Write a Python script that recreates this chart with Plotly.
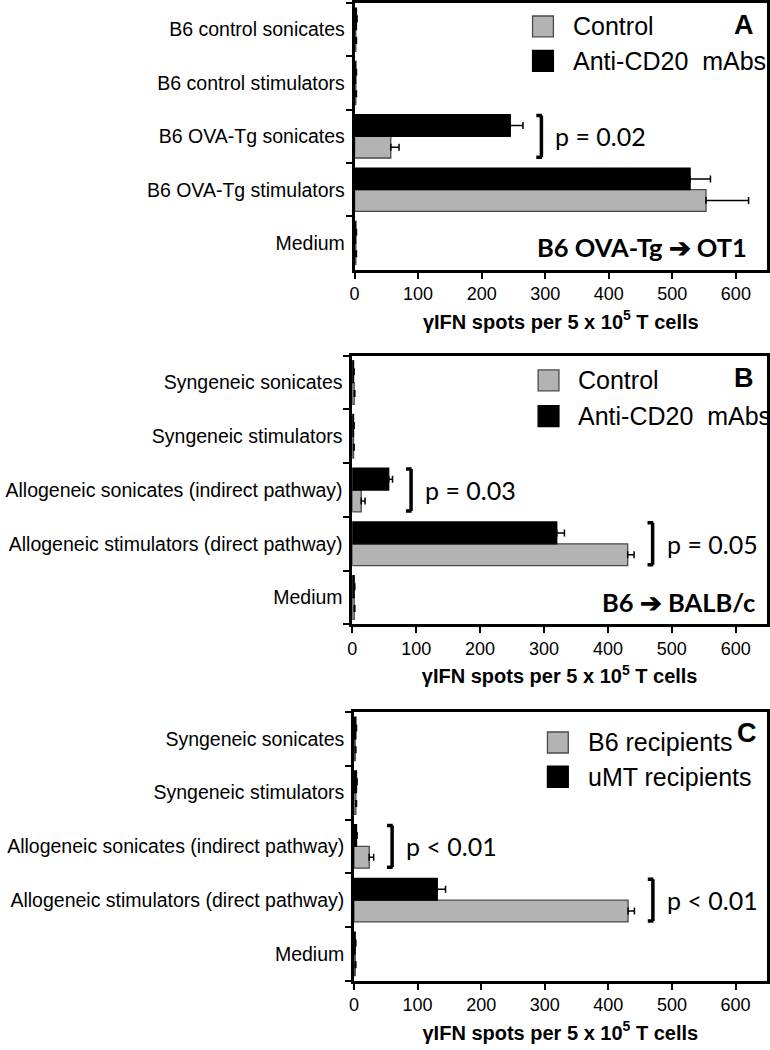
import plotly.graph_objects as go

W, H = 770, 1050

# ---------------- data ----------------
# categories listed from bottom to top
cats_a = ["Medium", "B6 OVA-Tg stimulators", "B6 OVA-Tg sonicates",
          "B6 control stimulators", "B6 control sonicates"]
ctrl_a = [2, 553, 57, 2, 2]
ctrl_a_err = [1, 67, 13, 1, 1]
anti_a = [2, 528, 245, 2, 3]
anti_a_err = [1, 32, 20, 1, 1]

cats_b = ["Medium", "Allogeneic stimulators (direct pathway)",
          "Allogeneic sonicates (indirect pathway)",
          "Syngeneic stimulators", "Syngeneic sonicates"]
ctrl_b = [3, 431, 14, 2, 3]
ctrl_b_err = [1, 10, 6, 1, 1]
anti_b = [3, 320, 57, 2, 2]
anti_b_err = [1, 12, 6, 1, 1]

cats_c = cats_b
b6_c = [2, 431, 24, 3, 2]
b6_c_err = [1, 10, 7, 1, 1]
umt_c = [2, 131, 4, 4, 3]
umt_c_err = [1, 13, 1, 1, 1]

legend_a = ["Control", "Anti-CD20\u00a0\u00a0mAbs"]
legend_c = ["B6 recipients", "uMT recipients"]
panel_letters = ["A", "B", "C"]
panel_notes = ["B6 OVA-Tg \u2794 OT1", "B6 \u2794 BALB/c", None]
# (panel, category index, p text)
pvals = [(0, 2, "p = 0.02"), (1, 2, "p = 0.03"), (1, 1, "p = 0.05"),
         (2, 2, "p < 0.01"), (2, 1, "p < 0.01")]
xticks = [0, 100, 200, 300, 400, 500, 600]

GRAY = "#b3b3b3"
GRAY_LINE = "#4a4a4a"

panels = [
    dict(cats=cats_a, s1=ctrl_a, e1=ctrl_a_err, s2=anti_a, e2=anti_a_err, names=legend_a,
         xdom=(352.3, 768), ydom=(2, 269)),
    dict(cats=cats_b, s1=ctrl_b, e1=ctrl_b_err, s2=anti_b, e2=anti_b_err, names=legend_a,
         xdom=(350, 768), ydom=(355, 624)),
    dict(cats=cats_c, s1=b6_c, e1=b6_c_err, s2=umt_c, e2=umt_c_err, names=legend_c,
         xdom=(351.7, 767.7), ydom=(711.7, 980.7)),
]

def px(x):
    return x / W

def py(y):
    return 1 - y / H

fig = go.Figure()
shapes = []
annotations = []
XMAX = 649

for i, p in enumerate(panels):
    sfx = "" if i == 0 else str(i + 1)
    xa, ya = "x" + sfx, "y" + sfx
    for vals, errs, name, fill, line in [(p["s1"], p["e1"], p["names"][0], GRAY, GRAY_LINE),
                                         (p["s2"], p["e2"], p["names"][1], "black", "black")]:
        fig.add_trace(go.Bar(
            orientation="h", x=vals, y=p["cats"], name=name,
            xaxis=xa, yaxis=ya, showlegend=False,
            marker=dict(color=fill, line=dict(color=line, width=1.3)),
            error_x=dict(type="data", array=errs, arrayminus=[0] * len(errs),
                         symmetric=False, color="black", thickness=1.5, width=3.5),
        ))
    x0, x1 = p["xdom"]
    y0, y1 = p["ydom"]
    fig.layout["xaxis" + sfx] = dict(
        domain=[px(x0), px(x1)], anchor=ya, range=[0, XMAX],
        tickvals=xticks, ticks="outside", ticklen=6, tickwidth=1.5, tickcolor="black",
        showline=True, mirror=True, linewidth=2.6, linecolor="black",
        showgrid=False, zeroline=False,
        tickfont=dict(family="Liberation Sans, Arial", size=18, color="black"),
        title=dict(text="<b>\u03b3IFN spots per 5 x 10<sup>5</sup> T cells</b>",
                   font=dict(family="Liberation Sans, Arial", size=20, color="black"),
                   standoff=12),
    )
    fig.layout["yaxis" + sfx] = dict(
        domain=[py(y1), py(y0)], anchor=xa, type="category",
        categoryorder="array", categoryarray=p["cats"],
        tickson="boundaries", ticks="outside", ticklen=6, tickwidth=1.5, tickcolor="black",
        showline=True, mirror=True, linewidth=2.6, linecolor="black",
        showgrid=False, zeroline=False, ticklabelstandoff=3,
        tickfont=dict(family="Liberation Sans, Arial", size=19.5, color="black"),
    )

    # manual legend (large square keys)
    lx = {0: 531.7, 1: 537.3, 2: 546.7}[i]
    ly = {0: (15, 49.5), 1: (369.3, 405), 2: (731.7, 766)}[i]
    for k, (fill, line) in enumerate([(GRAY, GRAY_LINE), ("black", "black")]):
        top = ly[k]
        shapes.append(dict(type="rect", xref="paper", yref="paper",
                           x0=px(lx), x1=px(lx + 21), y0=py(top + 21), y1=py(top),
                           fillcolor=fill, line=dict(color=line, width=1.3)))
        annotations.append(dict(xref="paper", yref="paper", x=px(lx + 38.5), y=py(top + 10.5),
                                xanchor="left", yanchor="middle", showarrow=False,
                                text=p["names"][k],
                                font=dict(family="Liberation Sans, Arial", size=25, color="black")))
    # panel letter
    lpos = {0: (757, 24), 1: (757, 377), 2: (760, 733)}[i]
    annotations.append(dict(xref="paper", yref="paper", x=px(lpos[0]), y=py(lpos[1]),
                            xanchor="right", yanchor="middle", showarrow=False,
                            text="<b>%s</b>" % panel_letters[i],
                            font=dict(family="Liberation Sans, Arial", size=27, color="black")))
    if panel_notes[i]:
        npos = {0: (750, 246.7), 1: (758, 601.7)}[i]
        annotations.append(dict(xref="paper", yref="paper", x=px(npos[0]), y=py(npos[1]),
                                xanchor="right", yanchor="middle", showarrow=False,
                                text="<b>%s</b>" % panel_notes[i],
                                font=dict(family="Lato, Open Sans", size=25.5, color="black")))

# significance brackets, placed just beyond the largest bar+error of each pair
for (pi, ci, txt) in pvals:
    p = panels[pi]
    sfx = "" if pi == 0 else str(pi + 1)
    xa, ya = "x" + sfx, "y" + sfx
    top_val = max(p["s1"][ci] + p["e1"][ci], p["s2"][ci] + p["e2"][ci])
    bx = top_val + 29
    hw = 0.39
    lw = 3.5
    shapes.append(dict(type="line", xref=xa, yref=ya, x0=bx, x1=bx, y0=ci - hw, y1=ci + hw,
                       line=dict(color="black", width=lw)))
    for yy in (ci - hw, ci + hw):
        shapes.append(dict(type="line", xref=xa, yref=ya, x0=bx - 8, x1=bx + 0.9, y0=yy, y1=yy,
                           line=dict(color="black", width=lw)))
    annotations.append(dict(xref=xa, yref=ya, x=bx, y=ci, xshift=12, xanchor="left",
                            yanchor="middle", showarrow=False, text=txt,
                            font=dict(family="Lato, Open Sans", size=25, color="black")))

fig.update_layout(
    width=W, height=H, margin=dict(l=0, r=0, t=0, b=0),
    paper_bgcolor="white", plot_bgcolor="white",
    barmode="group", bargap=0.19, bargroupgap=0,
    showlegend=False, shapes=shapes, annotations=annotations,
)

fig.write_html("out.html", config={"displayModeBar": False},
               post_script="document.body.style.margin='0';document.body.style.overflow='hidden';")
